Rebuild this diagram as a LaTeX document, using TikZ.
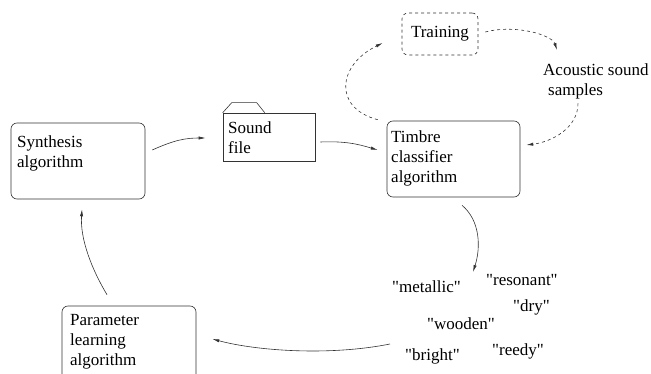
\documentclass[tikz,border=0pt]{standalone}
\usepackage{fontspec}
\setmainfont{Liberation Serif}[Ligatures=TeXOff]
\usetikzlibrary{arrows.meta}
\tikzset{
  procbox/.style={draw=black!80, line width=0.6pt, rounded corners=6pt, minimum width=134pt, minimum height=76pt, inner sep=0pt},
  boxtext/.style={anchor=north west, align=left, inner sep=0pt},
  word/.style={anchor=base west, inner sep=0pt},
  link/.style={draw=black!80, line width=0.6pt, -{Latex[length=7pt,width=3.2pt]}},
  dlink/.style={link, dash pattern=on 3pt off 3pt},
}
\newcommand{\timbreword}[3]{\node[word] (#1) at (#2,#3) {"#1"};}

\begin{document}
\begin{tikzpicture}[x=1pt,y=-1pt,font=\fontsize{17}{20}\selectfont]
        \useasboundingbox (0,0) rectangle (651,374);

        % boxes
        \node[procbox] (synth) at (78,161) {};
        \node[boxtext] (synthtext) at (17,136) {Synthesis\\algorithm};
        \node[procbox, minimum width=133pt] (timbre) at (453.5,159) {};
        \node[boxtext] (timbretext) at (391,130.5) {Timbre\\classifier\\algorithm};
        \node[procbox] (param) at (129,344) {};
        \node[boxtext] (paramtext) at (70,314) {Parameter\\learning\\algorithm};

        % sound file
        \node[draw=black!80, line width=0.6pt, minimum width=92pt, minimum height=48pt, inner sep=0pt] (sound) at (269,137) {};
        \draw[draw=black!80, line width=0.6pt] (sound.north west) -- ++(9,-10) -- ++(25,0) -- ++(8,10);
        \node[boxtext] (soundtext) at (228,121.5) {Sound\\file};

        % training
        \node[procbox, dash pattern=on 3pt off 3pt, minimum width=76pt, minimum height=42pt] (train) at (440,34) {Training};
        \node[boxtext] (samples) at (543,63.5) {Acoustic sound\\\hspace*{5pt}samples};

        % words
        \timbreword{metallic}{392}{293}
        \timbreword{resonant}{486}{286}
        \timbreword{dry}{513}{312}
        \timbreword{wooden}{427}{330}
        \timbreword{bright}{405}{360}
        \timbreword{reedy}{492}{355}
        \coordinate (wordsin) at (473,272);
        \coordinate (wordsout) at (390,344);

        % loop
        \draw[link] ([shift={(7,-11)}]synth.east) .. controls +(22,-10) and +(-20,0) .. ([shift={(-17,1)}]sound.west);
        \draw[link] ([shift={(5,5)}]sound.east) .. controls +(25,-1) and +(-20,-6) .. ([shift={(-9,-9)}]timbre.west);
        \draw[link] ([shift={(8.5,8)}]timbre.south) .. controls +(18,15) and +(8,-25) .. (wordsin);
        \draw[link] (wordsout) .. controls +(-60,12) and +(45,12) .. ([shift={(16,-5)}]param.east);
        \draw[link] ([shift={(-22,-11)}]param.north) .. controls +(-15,-25) and +(-2,30) .. ([shift={(4,10)}]synth.south);

        % training loop
        \draw[dlink] ([shift={(-9,-1)}]timbre.north west) .. controls +(-45,-12) and +(-45,22) .. ([shift={(-19,9)}]train.west);
        \draw[dlink] ([shift={(7,-2)}]train.east) .. controls +(30,-8) and +(-5,-15) .. ([shift={(14,-13.5)}]samples.north west);
        \draw[dlink] ([shift={(35,4)}]samples.south west) .. controls +(0,25) and +(25,-3) .. ([shift={(6,-14)}]timbre.east);

    \end{tikzpicture}
\end{document}
